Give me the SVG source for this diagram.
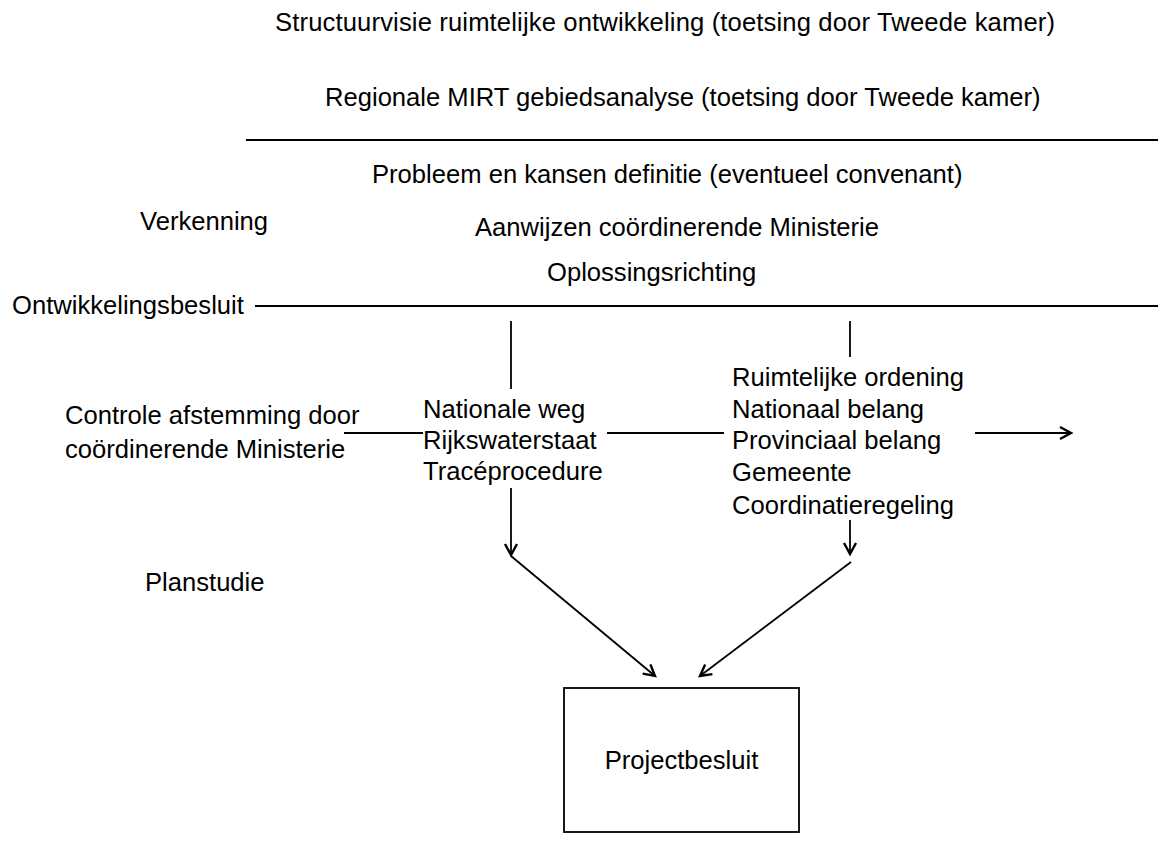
<svg xmlns="http://www.w3.org/2000/svg" width="1158" height="864" viewBox="0 0 1158 864">
  <style>
    text { font-family: "Liberation Sans", Arial, sans-serif; font-size: 25.6px; fill: #000; }
    .ln { stroke: #000; stroke-width: 1.8; fill: none; }
    .box { stroke: #000; stroke-width: 1.8; fill: #fff; }
  </style>
  <defs>
    <marker id="arrow" markerUnits="userSpaceOnUse" markerWidth="18" markerHeight="18" viewBox="-13 -9 15 18" refX="0" refY="0" orient="auto">
      <path d="M-11,-6 L0,0 L-11,6" fill="none" stroke="#000" stroke-width="2.4" stroke-linejoin="miter"/>
    </marker>
  </defs>
  <rect width="1158" height="864" fill="#fff"/>

  <!-- header texts -->
  <g id="structuurvisie"><text x="275" y="31" textLength="780" lengthAdjust="spacing">Structuurvisie ruimtelijke ontwikkeling (toetsing door Tweede kamer)</text></g>
  <g id="mirt"><text x="325" y="106">Regionale MIRT gebiedsanalyse (toetsing door Tweede kamer)</text></g>

  <!-- Verkenning phase -->
  <g id="verkenning"><text x="140" y="230">Verkenning</text></g>
  <g id="probleem"><text x="372" y="183">Probleem en kansen definitie (eventueel convenant)</text></g>
  <g id="aanwijzen"><text x="475" y="236">Aanwijzen coördinerende Ministerie</text></g>
  <g id="oplossing"><text x="547" y="281">Oplossingsrichting</text></g>
  <g id="ontwikkelingsbesluit"><text x="12" y="314">Ontwikkelingsbesluit</text></g>

  <!-- Planstudie phase -->
  <g id="controle">
    <text x="65" y="424">Controle afstemming door</text>
    <text x="65" y="458">coördinerende Ministerie</text>
  </g>
  <g id="nationale-weg">
    <text x="423" y="418">Nationale weg</text>
    <text x="423" y="449">Rijkswaterstaat</text>
    <text x="423" y="480">Tracéprocedure</text>
  </g>
  <g id="ruimtelijke-ordening">
    <text x="732" y="386">Ruimtelijke ordening</text>
    <text x="732" y="418">Nationaal belang</text>
    <text x="732" y="449">Provinciaal belang</text>
    <text x="732" y="481">Gemeente</text>
    <text x="732" y="514">Coordinatieregeling</text>
  </g>
  <g id="planstudie"><text x="145" y="591">Planstudie</text></g>

  <g id="projectbesluit">
    <rect class="box" x="564" y="688" width="235" height="144"/>
    <text x="681.5" y="769" text-anchor="middle">Projectbesluit</text>
  </g>

  <!-- connectors -->
  <g id="connectors">
    <line class="ln" x1="246" y1="140" x2="1158" y2="140"/>
    <line class="ln" x1="255" y1="306" x2="1158" y2="306"/>
    <line class="ln" x1="511" y1="321" x2="511" y2="389"/>
    <line class="ln" x1="850" y1="321" x2="850" y2="357"/>
    <line class="ln" x1="344" y1="433" x2="423" y2="433"/>
    <line class="ln" x1="607" y1="433" x2="724" y2="433"/>
    <line class="ln" x1="975" y1="433" x2="1071" y2="433" marker-end="url(#arrow)"/>
    <line class="ln" x1="511" y1="488" x2="511" y2="555" marker-end="url(#arrow)"/>
    <line class="ln" x1="850" y1="520" x2="850" y2="554" marker-end="url(#arrow)"/>
    <line class="ln" x1="511" y1="556" x2="655" y2="676" marker-end="url(#arrow)"/>
    <line class="ln" x1="851" y1="562" x2="700" y2="676" marker-end="url(#arrow)"/>
  </g>
</svg>
